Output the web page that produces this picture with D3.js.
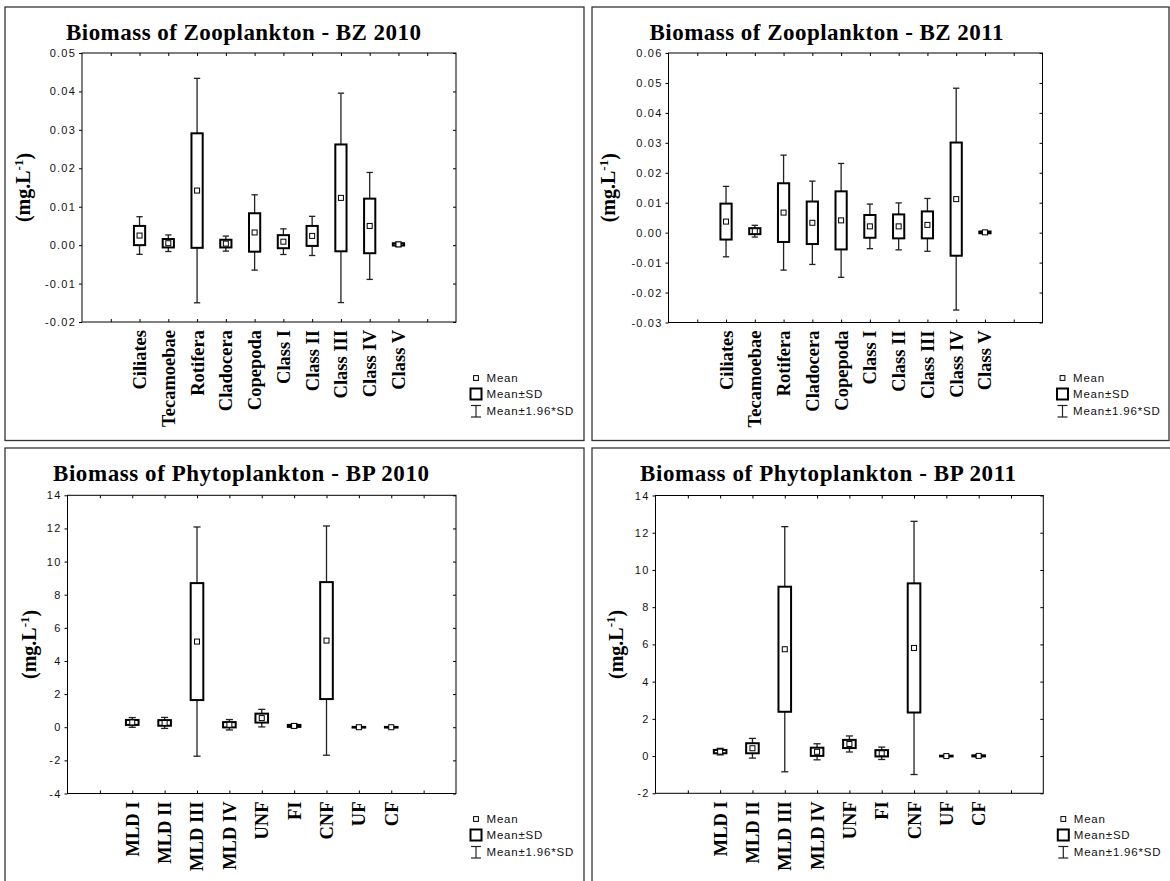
<!DOCTYPE html>
<html>
<head>
<meta charset="utf-8">
<script src="https://cdn.jsdelivr.net/npm/d3@7"></script>
<style>
  html, body { margin: 0; padding: 0; background: #fff; }
  svg { display: block; }
</style>
</head>
<body>
<script>
// ---------- DATA ----------
const zooCategories = ["Ciliates","Tecamoebae","Rotifera","Cladocera","Copepoda","Class I","Class II","Class III","Class IV","Class V"];
const phytoCategories = ["MLD I","MLD II","MLD III","MLD IV","UNF","FI","CNF","UF","CF"];

const bz2010Mean = [0.0025, 0.0005, 0.0142, 0.0004, 0.0033, 0.0009, 0.0024, 0.0123, 0.0050, 0.0002];
const bz2010SD   = [0.0025, 0.0011, 0.0149, 0.0010, 0.0050, 0.0017, 0.0026, 0.0139, 0.0071, 0.0003];

const bz2011Mean = [0.0037, 0.0005, 0.0067, 0.0033, 0.0041, 0.0021, 0.0021, 0.0026, 0.0112, 0.0001];
const bz2011SD   = [0.0060, 0.0010, 0.0098, 0.0071, 0.0097, 0.0038, 0.0040, 0.0045, 0.0189, 0.0003];

const bp2010Mean = [0.29, 0.26, 5.17, 0.15, 0.55, 0.08, 5.23, 0.00, 0.00];
const bp2010SD   = [0.15, 0.17, 3.53, 0.16, 0.27, 0.06, 3.53, 0.02, 0.02];

const bp2011Mean = [0.24, 0.42, 5.74, 0.23, 0.65, 0.15, 5.81, 0.00, 0.01];
const bp2011SD   = [0.09, 0.27, 3.36, 0.22, 0.22, 0.17, 3.47, 0.02, 0.03];

const bz2010Ticks = [-0.02, -0.01, 0.00, 0.01, 0.02, 0.03, 0.04, 0.05];
const bz2011Ticks = [-0.03, -0.02, -0.01, 0.00, 0.01, 0.02, 0.03, 0.04, 0.05, 0.06];
const bp2010Ticks = [-4, -2, 0, 2, 4, 6, 8, 10, 12, 14];
const bp2011Ticks = [-2, 0, 2, 4, 6, 8, 10, 12, 14];

const titles = ["Biomass of Zooplankton - BZ 2010", "Biomass of Zooplankton - BZ 2011",
                "Biomass of Phytoplankton - BP 2010", "Biomass of Phytoplankton - BP 2011"];
const legendLabels = ["Mean", "Mean\u00B1SD", "Mean\u00B11.96*SD"];

// ---------- LAYOUT ----------
const W = 1170, H = 881;
const serif = "'Liberation Serif','Times New Roman',serif";
const sans = "'Liberation Sans',Arial,sans-serif";

const panels = [
  { title: titles[0], cats: zooCategories, mean: bz2010Mean, sd: bz2010SD, ticks: bz2010Ticks, fmt: d => d.toFixed(2),
    border: [5, 7, 584, 440.5], frame: [82, 53, 456, 322], titleX: 66, titleY: 39.5, titleW: 355, yTitleX: 23 },
  { title: titles[1], cats: zooCategories, mean: bz2011Mean, sd: bz2011SD, ticks: bz2011Ticks, fmt: d => d.toFixed(2),
    border: [592, 7, 1169, 440.5], frame: [668.5, 53, 1042.5, 322.5], titleX: 649.5, titleY: 39.5, titleW: 354, yTitleX: 608 },
  { title: titles[2], cats: phytoCategories, mean: bp2010Mean, sd: bp2010SD, ticks: bp2010Ticks, fmt: d => String(d),
    border: [5, 448, 584, 890], frame: [67.5, 495.3, 456, 793.5], titleX: 53, titleY: 481, titleW: 376, yTitleX: 29 },
  { title: titles[3], cats: phytoCategories, mean: bp2011Mean, sd: bp2011SD, ticks: bp2011Ticks, fmt: d => String(d),
    border: [592, 448, 1180, 890], frame: [655.5, 495.5, 1043.3, 793.3], titleX: 640, titleY: 481, titleW: 376, yTitleX: 615.5 }
];

const svg = d3.select("body").append("svg").attr("width", W).attr("height", H);
svg.append("rect").attr("width", W).attr("height", H).attr("fill", "#fff");

panels.forEach(p => {
  const g = svg.append("g");
  const [bx0, by0, bx1, by1] = p.border;
  g.append("rect").attr("x", bx0).attr("y", by0).attr("width", bx1 - bx0).attr("height", by1 - by0)
    .attr("fill", "none").attr("stroke", "#333").attr("stroke-width", 1.3);

  const [fx0, fy0, fx1, fy1] = p.frame;
  const n = p.cats.length;
  const x = d3.scaleLinear().domain([0, n + 3]).range([fx0, fx1]);
  const y = d3.scaleLinear().domain([p.ticks[0], p.ticks[p.ticks.length - 1]]).range([fy1, fy0]);
  const step = x(1) - x(0);
  const xTicks = d3.range(1, n + 3);

  // title
  g.append("text").attr("x", p.titleX).attr("y", p.titleY)
    .attr("font-family", serif).attr("font-weight", "bold").attr("font-size", 23)
    .attr("textLength", p.titleW).attr("lengthAdjust", "spacing")
    .text(p.title);

  // axes
  const left = g.append("g").attr("transform", `translate(${fx0},0)`)
    .call(d3.axisLeft(y).tickValues(p.ticks).tickSize(3).tickPadding(3).tickFormat(p.fmt));
  left.selectAll("text").attr("font-family", sans).attr("font-size", 11)
    .style("letter-spacing", "1.2px").attr("fill", "#111");
  const right = g.append("g").attr("transform", `translate(${fx1},0)`)
    .call(d3.axisLeft(y).tickValues(p.ticks).tickSize(3).tickFormat(""));
  const top = g.append("g").attr("transform", `translate(0,${fy0})`)
    .call(d3.axisBottom(x).tickValues(xTicks).tickSize(3).tickFormat(""));
  const bottom = g.append("g").attr("transform", `translate(0,${fy1})`)
    .call(d3.axisTop(x).tickValues(xTicks).tickSize(3).tickFormat(""));
  [left, right, top, bottom].forEach(a => {
    a.select(".domain").remove();
    a.selectAll("line").attr("stroke", "#000");
  });
  g.append("rect").attr("x", fx0).attr("y", fy0).attr("width", fx1 - fx0).attr("height", fy1 - fy0)
    .attr("fill", "none").attr("stroke", "#000").attr("stroke-width", 1);

  // y title
  const yt = g.append("text")
    .attr("transform", `translate(${p.yTitleX},${(fy0 + fy1) / 2}) rotate(-90)`)
    .attr("text-anchor", "middle").attr("dy", "0.35em")
    .attr("font-family", serif).attr("font-weight", "bold").attr("font-size", 20);
  yt.append("tspan").text("(mg.L");
  yt.append("tspan").attr("font-size", 13).attr("dy", "-0.55em").text("-1");
  yt.append("tspan").attr("dy", "0.4em").text(")");

  // category labels
  g.selectAll("text.cat").data(p.cats).join("text").attr("class", "cat")
    .attr("transform", (d, i) => `translate(${x(i + 2)},${fy1 + 8}) rotate(-90)`)
    .attr("text-anchor", "end").attr("dy", "0.35em")
    .attr("font-family", serif).attr("font-weight", "bold").attr("font-size", 18.5)
    .text(d => d);

  // boxes
  const bw = step * 0.39, cw = step * 0.22, ms = 5;
  p.cats.forEach((c, i) => {
    const cx = x(i + 2), m = p.mean[i], s = p.sd[i];
    const wTop = y(m + 1.96 * s), wBot = y(m - 1.96 * s);
    g.append("line").attr("x1", cx).attr("x2", cx).attr("y1", wTop).attr("y2", wBot)
      .attr("stroke", "#222").attr("stroke-width", 1.3);
    g.append("line").attr("x1", cx - cw / 2).attr("x2", cx + cw / 2).attr("y1", wTop).attr("y2", wTop)
      .attr("stroke", "#222").attr("stroke-width", 1.3);
    g.append("line").attr("x1", cx - cw / 2).attr("x2", cx + cw / 2).attr("y1", wBot).attr("y2", wBot)
      .attr("stroke", "#222").attr("stroke-width", 1.3);
    const bTop = y(m + s), bBot = y(m - s);
    g.append("rect").attr("x", cx - bw / 2).attr("y", bTop).attr("width", bw).attr("height", Math.max(bBot - bTop, 0.5))
      .attr("fill", "#fff").attr("stroke", "#000").attr("stroke-width", 2);
    g.append("rect").attr("x", cx - ms / 2).attr("y", y(m) - ms / 2).attr("width", ms).attr("height", ms)
      .attr("fill", "#fff").attr("stroke", "#000").attr("stroke-width", 1);
  });

  // legend
  const lx = fx1 + 20, ly = by0 + 371, tx = fx1 + 30.5;
  g.append("rect").attr("x", lx - 2.4).attr("y", ly - 2.4).attr("width", 4.8).attr("height", 4.8)
    .attr("fill", "#fff").attr("stroke", "#000").attr("stroke-width", 1);
  g.append("rect").attr("x", lx - 5.5).attr("y", ly + 10.5).attr("width", 11).attr("height", 11)
    .attr("fill", "#fff").attr("stroke", "#000").attr("stroke-width", 2);
  const wy0 = ly + 27.5, wy1 = ly + 39;
  g.append("line").attr("x1", lx).attr("x2", lx).attr("y1", wy0).attr("y2", wy1).attr("stroke", "#222").attr("stroke-width", 1.2);
  g.append("line").attr("x1", lx - 5).attr("x2", lx + 5).attr("y1", wy0).attr("y2", wy0).attr("stroke", "#222").attr("stroke-width", 1.2);
  g.append("line").attr("x1", lx - 5).attr("x2", lx + 5).attr("y1", wy1).attr("y2", wy1).attr("stroke", "#222").attr("stroke-width", 1.2);
  [4, 20, 36.5].forEach((dy, k) => {
    g.append("text").attr("x", tx).attr("y", ly + dy)
      .attr("font-family", sans).attr("font-size", 11.5).style("letter-spacing", "0.8px").attr("fill", "#111")
      .text(legendLabels[k]);
  });
});
</script>
</body>
</html>
